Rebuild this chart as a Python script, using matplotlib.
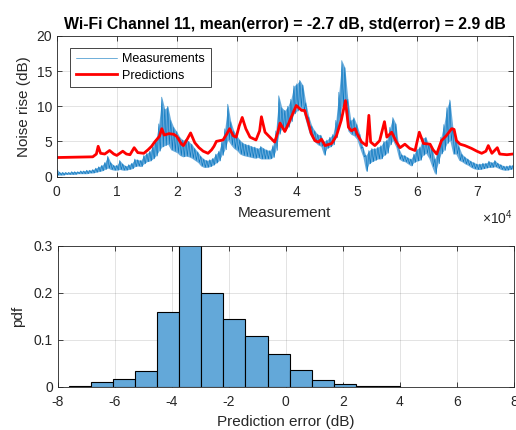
import numpy as np
import matplotlib
matplotlib.use("Agg")
import matplotlib.pyplot as plt

plt.rcParams["font.family"] = ["Liberation Sans", "DejaVu Sans"]
plt.rcParams["mathtext.fontset"] = "custom"
plt.rcParams["mathtext.rm"] = "Liberation Sans"
plt.rcParams["axes.unicode_minus"] = False

# measured noise rise: lower / upper edge of the trace, one pair every 500 samples
meas_step = 500
meas_low = [
    0.2, 0.2, 0.2, 0.3, 0.3, 0.3, 0.3, 0.4, 0.4, 0.4,
    0.4, 0.5, 0.5, 0.6, 0.7, 0.8, 1.0, 1.2, 1.0, 0.9,
    0.9, 1.0, 0.9, 0.9, 1.0, 1.1, 1.4, 1.5, 1.4, 1.8,
    2.1, 2.2, 2.5, 2.9, 3.6, 4.2, 4.4, 4.6, 3.8, 3.6,
    3.4, 3.0, 2.8, 2.9, 2.8, 2.6, 2.3, 2.0, 1.5, 1.3,
    1.3, 1.4, 1.6, 1.9, 2.2, 3.0, 3.8, 5.2, 4.5, 4.0,
    3.7, 3.2, 3.0, 2.9, 2.8, 2.7, 2.6, 2.7, 2.5, 2.5,
    2.5, 2.5, 2.7, 3.7, 6.0, 6.8, 6.5, 7.0, 7.8, 8.9,
    9.3, 9.9, 9.4, 7.8, 6.3, 5.5, 4.9, 4.5, 4.3, 3.0,
    4.0, 4.2, 4.5, 5.5, 7.5, 10.0, 9.5, 6.5, 6.0, 5.8,
    5.3, 4.0, 2.8, 0.7, 1.8, 2.1, 2.3, 2.5, 2.5, 3.0,
    3.3, 4.5, 5.1, 4.2, 2.5, 2.2, 2.1, 1.8, 1.5, 2.0,
    2.2, 2.3, 3.0, 3.3, 2.6, 1.4, 0.3, 1.8, 3.2, 3.7,
    4.7, 5.1, 3.2, 3.2, 2.3, 2.1, 1.8, 1.6, 1.3, 1.1,
    1.0, 1.0, 1.1, 1.2, 1.3, 1.3, 1.4, 1.2, 1.0, 0.9,
    0.9, 1.0, 1.1,
]
meas_high = [
    1.1, 0.6, 0.6, 0.6, 0.6, 0.7, 0.7, 0.7, 0.8, 0.8,
    0.9, 0.9, 1.0, 1.2, 1.4, 1.6, 2.0, 2.9, 2.0, 1.6,
    1.6, 2.3, 1.8, 1.5, 1.7, 1.9, 2.5, 2.4, 2.3, 3.0,
    3.3, 3.6, 4.3, 5.2, 7.5, 11.3, 9.6, 10.0, 8.0, 7.0,
    6.4, 5.6, 5.2, 5.3, 5.0, 4.6, 4.0, 3.5, 2.9, 2.5,
    2.3, 2.4, 2.6, 3.2, 3.6, 5.0, 6.8, 10.3, 7.8, 6.5,
    5.8, 5.2, 4.8, 4.6, 4.5, 4.3, 4.2, 4.0, 4.3, 4.0,
    3.8, 3.7, 4.4, 6.5, 11.5, 9.8, 9.4, 10.0, 11.0, 12.9,
    13.2, 13.7, 13.0, 10.5, 8.5, 7.2, 6.5, 6.0, 5.9, 5.0,
    5.2, 5.6, 6.0, 8.0, 12.0, 16.5, 15.5, 11.0, 8.0, 8.4,
    7.4, 6.0, 4.2, 3.0, 3.7, 4.0, 4.0, 4.2, 4.4, 5.0,
    5.2, 7.0, 8.4, 7.5, 4.0, 3.1, 3.0, 2.7, 2.5, 3.2,
    3.9, 4.2, 5.5, 5.6, 4.5, 4.2, 2.5, 3.8, 5.6, 7.4,
    9.8, 10.9, 7.0, 5.6, 4.3, 3.2, 2.8, 2.5, 2.2, 2.0,
    1.8, 1.8, 1.9, 1.9, 2.2, 2.0, 2.3, 1.9, 1.7, 1.5,
    1.5, 1.6, 1.6,
]

# predicted noise rise (x in units of 1e4 measurements)
pred_x = [
    0, 0.6, 0.66, 0.69, 0.73, 0.8, 0.88, 0.95, 1.0, 1.05,
    1.1, 1.16, 1.22, 1.29, 1.35, 1.45, 1.52, 1.58, 1.63, 1.71,
    1.75, 1.79, 1.87, 1.95, 2.0, 2.08, 2.11, 2.16, 2.23, 2.3,
    2.37, 2.44, 2.52, 2.58, 2.62, 2.66, 2.77, 2.83, 2.88, 2.94,
    2.99, 3.04, 3.09, 3.15, 3.22, 3.32, 3.38, 3.41, 3.47, 3.55,
    3.63, 3.68, 3.72, 3.8, 3.86, 3.92, 3.99, 4.08, 4.13, 4.19,
    4.24, 4.3, 4.36, 4.41, 4.47, 4.58, 4.66, 4.74, 4.81, 4.86,
    4.91, 4.97, 5.02, 5.08, 5.16, 5.2, 5.23, 5.3, 5.38, 5.46,
    5.5, 5.58, 5.66, 5.72, 5.8, 5.88, 5.97, 6.04, 6.11, 6.22,
    6.27, 6.33, 6.41, 6.49, 6.58, 6.62, 6.66, 6.72, 6.8, 6.91,
    7.0, 7.08, 7.15, 7.19, 7.25, 7.34, 7.38, 7.5, 7.6,
]
pred_y = [
    2.7, 2.8, 3.2, 4.3, 3.3, 3.2, 3.7, 3.2, 3.0, 3.3,
    3.6, 3.2, 3.1, 4.1, 3.4, 3.3, 3.8, 4.3, 4.9, 5.7,
    6.8, 5.9, 6.1, 6.0, 5.7, 4.6, 4.4, 5.1, 6.2, 4.8,
    4.1, 3.6, 3.3, 3.8, 4.3, 5.0, 5.2, 6.0, 6.8, 5.8,
    5.6, 7.2, 8.4, 6.8, 5.6, 5.2, 6.5, 8.5, 6.3, 5.6,
    4.9, 6.2, 7.6, 6.4, 7.5, 8.7, 10.1, 9.4, 9.4, 7.7,
    6.1, 5.1, 4.9, 5.3, 4.4, 4.7, 5.8, 8.0, 10.8, 7.0,
    6.5, 6.8, 5.8, 4.9, 4.4, 8.7, 4.9, 4.4, 5.1, 7.8,
    5.6, 6.3, 4.9, 4.1, 4.6, 4.0, 3.7, 6.3, 4.7, 4.6,
    3.8, 3.2, 5.1, 5.8, 6.8, 6.7, 5.1, 4.6, 4.4, 4.0,
    3.6, 3.3, 3.6, 4.4, 3.3, 4.1, 3.2, 3.1, 3.2,
]

# prediction error histogram (pdf)
err_edges = [-7.61, -6.84, -6.06, -5.29, -4.51, -3.74, -2.97, -2.19,
             -1.42, -0.64, 0.13, 0.91, 1.68, 2.45, 3.23, 4.00]
err_pdf = [0.003, 0.010, 0.016, 0.035, 0.160, 0.310, 0.201, 0.145,
           0.109, 0.071, 0.037, 0.015, 0.007, 0.003, 0.002]

mean_err = -2.7
std_err = 2.9

# alternate upper and lower edge so the thin trace fills its band
low = np.array(meas_low)
high = np.array(meas_high)
n = len(low)
mx_env = np.arange(n) * meas_step
mx = np.empty(2 * n)
my = np.empty(2 * n)
mx[0::2] = mx_env
mx[1::2] = mx_env + meas_step / 2
my[0::2] = high
my[1::2] = low

ink = "#262626"
grid_kw = dict(color="#262626", alpha=0.15, linewidth=0.6)


def style_axes(ax):
    for s in ax.spines.values():
        s.set_color(ink)
        s.set_linewidth(0.6)
    ax.tick_params(direction="in", length=3.5, width=0.6, colors=ink,
                   labelsize=10, top=True, right=True)
    ax.tick_params(axis="x", pad=6)
    ax.grid(True, **grid_kw)
    ax.set_axisbelow(True)


fig = plt.figure(figsize=(5.16, 4.30), dpi=100)

ax1 = fig.add_axes([0.110, 0.5895, 0.884, 0.327])
ax1.fill_between(mx_env, low, high, color="#6aacdc", linewidth=0)
ax1.plot(mx, my, color="#0072BD", linewidth=0.4, label="Measurements")
ax1.plot(np.array(pred_x) * 1e4, pred_y, color="#FF0000", linewidth=2.0,
         label="Predictions")
ax1.set_xlim(0, 76000)
ax1.set_ylim(0, 20)
ax1.set_xticks(np.arange(0, 80000, 10000))
ax1.set_xticklabels([str(i) for i in range(8)])
ax1.set_yticks([0, 5, 10, 15, 20])
style_axes(ax1)
ax1.set_xlabel("Measurement", fontsize=11, color=ink, labelpad=5)
ax1.set_ylabel("Noise rise (dB)", fontsize=11, color=ink, labelpad=4)
ax1.set_title(f"Wi-Fi Channel 11, mean(error) = {mean_err} dB, "
              f"std(error) = {std_err} dB",
              fontsize=11.4, fontweight="bold", color="black", pad=5)
ax1.text(1.0, -0.29, r"$\times10^{4}$", transform=ax1.transAxes,
         ha="right", va="center", fontsize=10, color=ink)
leg = ax1.legend(loc="upper left", bbox_to_anchor=(0.030, 0.915),
                 fontsize=9, frameon=True, fancybox=False, framealpha=1,
                 edgecolor=ink, handlelength=3.3, borderpad=0.45,
                 labelspacing=0.35, handletextpad=0.4, borderaxespad=0)
leg.get_frame().set_linewidth(0.6)

ax2 = fig.add_axes([0.112, 0.100, 0.884, 0.328])
ax2.hist(err_edges[:-1], bins=err_edges, weights=err_pdf,
         facecolor=(0.39, 0.66, 0.85), edgecolor="black", linewidth=0.8)
ax2.set_xlim(-8, 8)
ax2.set_ylim(0, 0.3)
ax2.set_xticks(np.arange(-8, 9, 2))
ax2.set_yticks([0, 0.1, 0.2, 0.3])
ax2.set_yticklabels(["0", "0.1", "0.2", "0.3"])
style_axes(ax2)
ax2.set_xlabel("Prediction error (dB)", fontsize=11, color=ink, labelpad=4)
ax2.set_ylabel("pdf", fontsize=11, color=ink, labelpad=6)

fig.savefig("out.png", dpi=100)
